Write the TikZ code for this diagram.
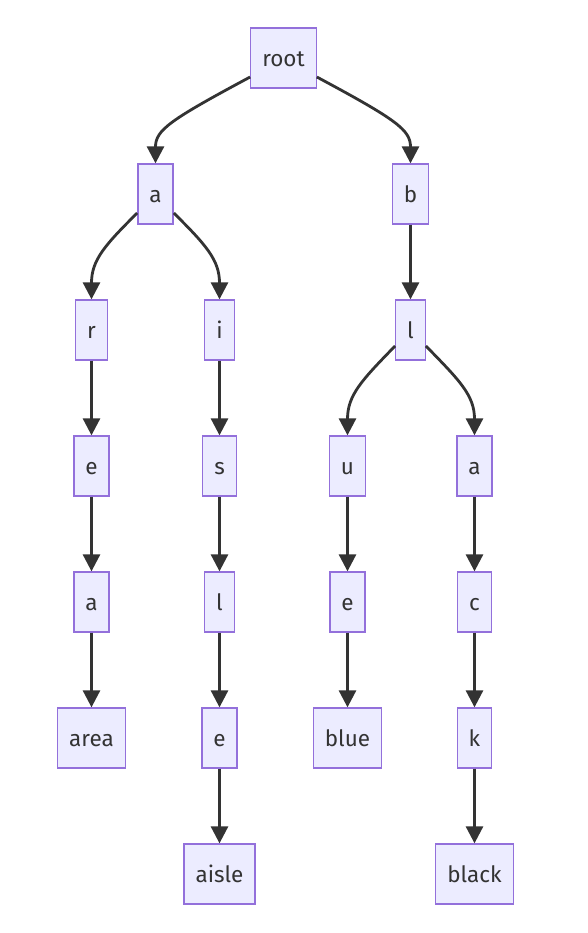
\documentclass[tikz,border=0pt]{standalone}
\usepackage{fontspec}
\setmainfont{Fira Sans}
\usetikzlibrary{arrows.meta}
\definecolor{nfill}{HTML}{ECECFF}
\definecolor{nline}{HTML}{9370DB}
\definecolor{eline}{HTML}{333333}
\definecolor{tcol}{HTML}{333333}
\tikzset{
  tnode/.style={draw=nline, fill=nfill, line width=1.3pt, minimum height=60pt, inner xsep=11.5pt, inner ysep=0pt, text=tcol, font=\fontsize{22.5}{26}\selectfont, text height=19pt, text depth=2pt},
  edge/.style={draw=eline, line width=2.8pt, -{Triangle[length=17pt,width=17pt]}}
}
\begin{document}
\begin{tikzpicture}[x=1pt,y=-1pt]
\useasboundingbox (0,0) rectangle (588,933);
\node[tnode] (root) at (283.5,58) {root};
\node[tnode] (a) at (155.5,194) {a};
\node[tnode] (b) at (410.5,194) {b};
\node[tnode] (r) at (91.5,330) {r};
\node[tnode] (i) at (219.5,330) {i};
\node[tnode] (l) at (410.5,330) {l};
\node[tnode] (e1) at (91.5,466) {e};
\node[tnode] (s) at (219.5,466) {s};
\node[tnode] (u) at (347.5,466) {u};
\node[tnode] (a2) at (474.5,466) {a};
\node[tnode] (a3) at (91.5,602) {a};
\node[tnode] (l2) at (219.5,602) {l};
\node[tnode] (e2) at (347.5,602) {e};
\node[tnode] (c) at (474.5,602) {c};
\node[tnode] (area) at (91.5,738) {area};
\node[tnode] (e3) at (219.5,738) {e};
\node[tnode] (blue) at (347.5,738) {blue};
\node[tnode] (k) at (474.5,738) {k};
\node[tnode] (aisle) at (219.5,874) {aisle};
\node[tnode] (black) at (474.5,874) {black};
% curved edges
\draw[edge] ([yshift=-19pt]root.west) .. controls (170,120) and (155.5,130) .. (a.north);
\draw[edge] ([yshift=-19pt]root.east) .. controls (397,120) and (410.5,130) .. (b.north);
\draw[edge] ([yshift=-19pt]a.west) .. controls (105,245) and (91.5,260) .. (r.north);
\draw[edge] ([yshift=-19pt]a.east) .. controls (206,245) and (219.5,260) .. (i.north);
\draw[edge] ([yshift=-16pt]l.west) .. controls (362,380) and (347.5,395) .. (u.north);
\draw[edge] ([yshift=-16pt]l.east) .. controls (459,380) and (474.5,395) .. (a2.north);
% straight edges
\draw[edge] (b) -- (l);
\draw[edge] (r) -- (e1);
\draw[edge] (e1) -- (a3);
\draw[edge] (a3) -- (area);
\draw[edge] (i) -- (s);
\draw[edge] (s) -- (l2);
\draw[edge] (l2) -- (e3);
\draw[edge] (e3) -- (aisle);
\draw[edge] (u) -- (e2);
\draw[edge] (e2) -- (blue);
\draw[edge] (a2) -- (c);
\draw[edge] (c) -- (k);
\draw[edge] (k) -- (black);
\end{tikzpicture}
\end{document}
